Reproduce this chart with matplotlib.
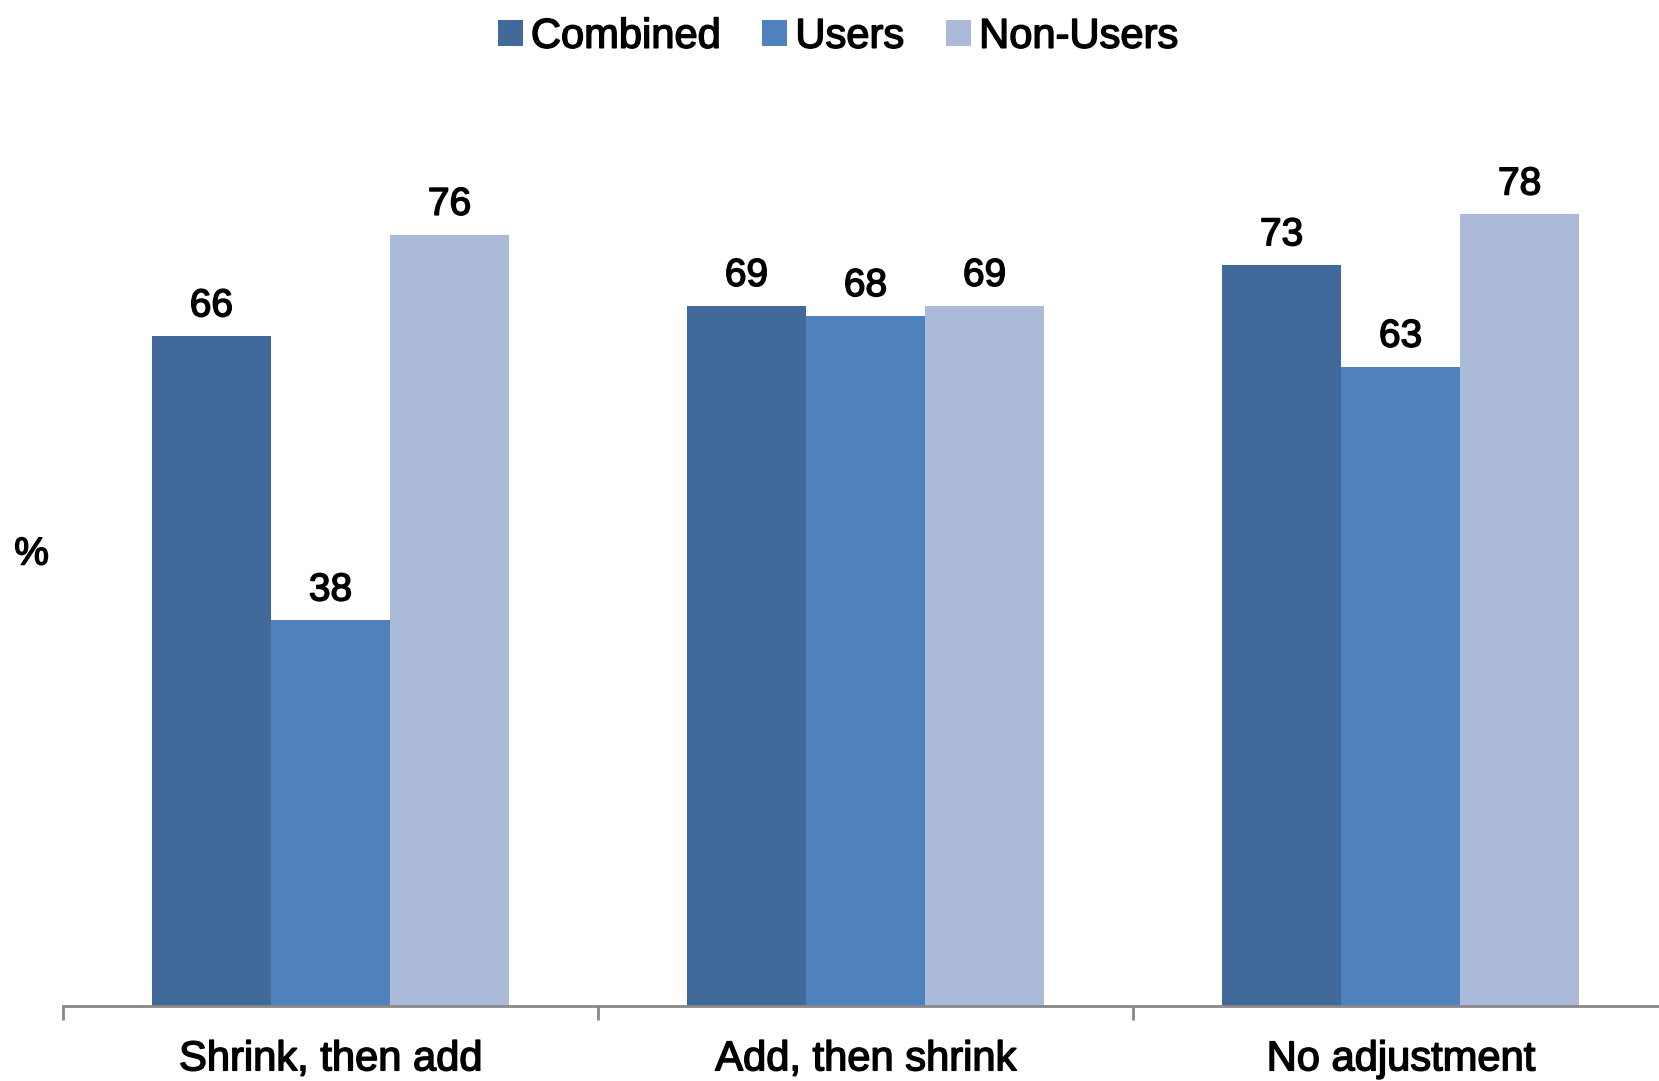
import matplotlib
matplotlib.use('Agg')
from matplotlib import pyplot as plt
from matplotlib.patches import Patch
import matplotlib.patheffects as pe
import numpy as np

plt.rcParams['font.family'] = ['Liberation Sans', 'DejaVu Sans']

categories = ['Shrink, then add', 'Add, then shrink', 'No adjustment']
series = ['Combined', 'Users', 'Non-Users']
combined = [66, 69, 73]
users = [38, 68, 63]
non_users = [76, 69, 78]
colors = ['#416A9A', '#4F81BD', '#ABBAD8']

# slightly heavier text, like the original rendering
heavy = [pe.withStroke(linewidth=1.1, foreground='black')]

fig = plt.figure(figsize=(16.59, 10.81), dpi=100)
ax = fig.add_axes([0.038, 0.0694, 0.9675, 0.845])

x = np.arange(len(categories))
w = 0.2225
for i, (vals, col) in enumerate(zip([combined, users, non_users], colors)):
    bars = ax.bar(x + (i - 1) * w, vals, width=w, color=col, edgecolor='none')
    for b, v in zip(bars, vals):
        ax.annotate(str(v), (b.get_x() + b.get_width() / 2, v), xytext=(0, 8.5),
                    textcoords='offset points', ha='center', va='bottom',
                    fontsize=28, path_effects=heavy)

ax.set_xlim(-0.5, 2.5)
ax.set_ylim(0, 90)
ax.set_yticks([])
for s in ['top', 'right', 'left']:
    ax.spines[s].set_visible(False)
ax.spines['bottom'].set_color('#888888')
ax.spines['bottom'].set_linewidth(2)

ax.set_xticks(x)
ax.set_xticklabels(categories, fontsize=30)
for t in ax.get_xticklabels():
    t.set_path_effects(heavy)
ax.tick_params(axis='x', which='major', length=0, pad=24)
ax.set_xticks([-0.5, 0.5, 1.5, 2.5], minor=True)
ax.tick_params(axis='x', which='minor', length=10, width=2, color='#888888')

fig.text(0.019, 0.487, '%', fontsize=28, ha='center', va='center', path_effects=heavy)

handles = [Patch(facecolor=c, edgecolor='none') for c in colors]
leg = fig.legend(handles, series, loc='center', bbox_to_anchor=(0.505, 0.966), ncol=3,
                 frameon=False, fontsize=30, handlelength=0.6, handleheight=0.6,
                 handletextpad=0.2, columnspacing=1.0)
for t in leg.get_texts():
    t.set_path_effects(heavy)

fig.savefig('out.png', dpi=100)
